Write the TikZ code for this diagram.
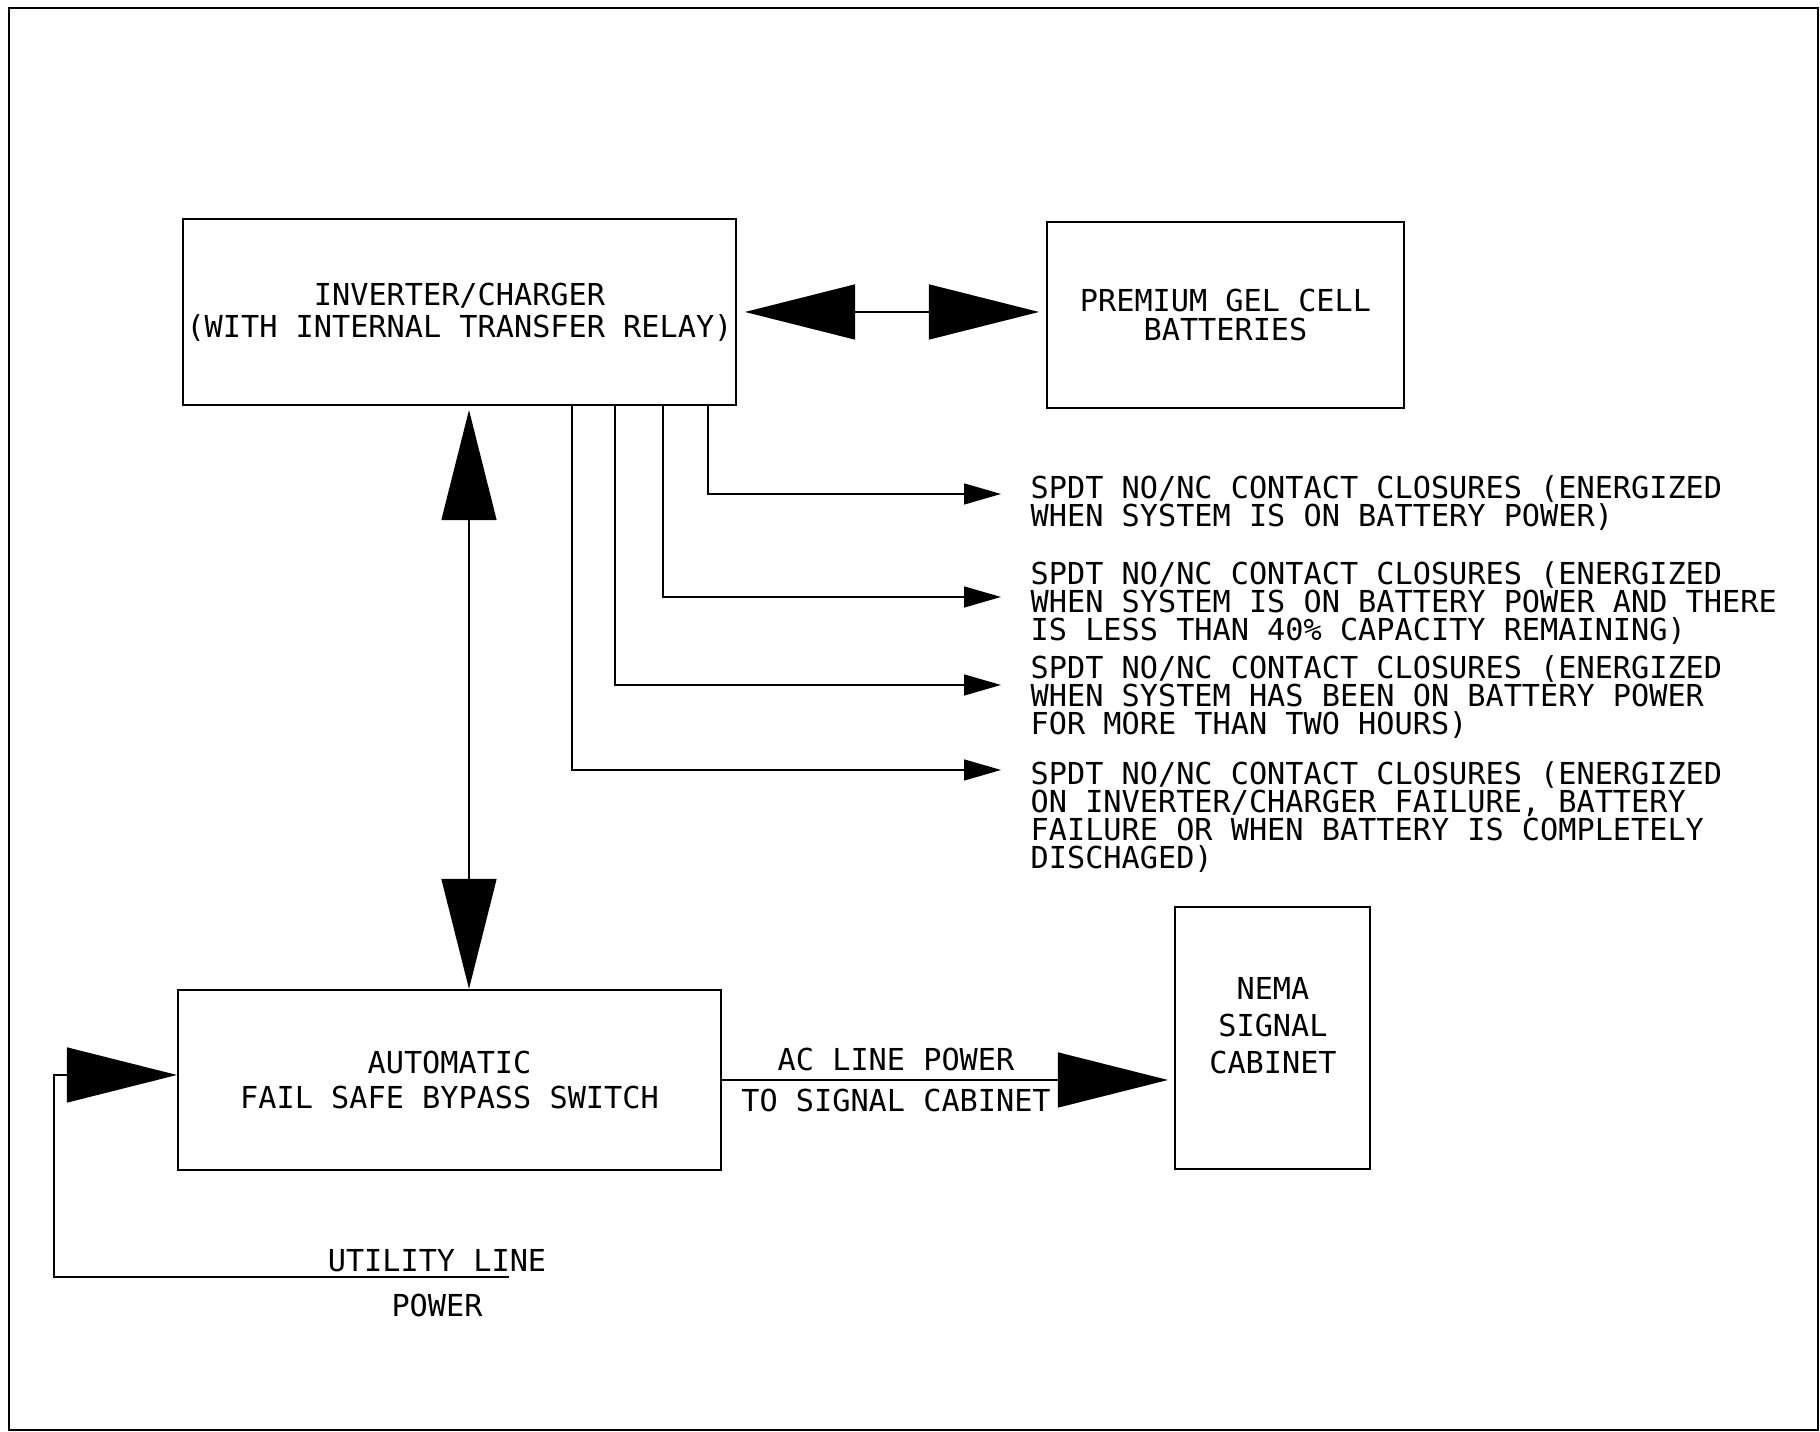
\documentclass[tikz,border=0pt]{standalone}
\usepackage{fontspec}
\usepackage{tikz}
\usetikzlibrary{arrows.meta,positioning,calc}
\newfontfamily\cadfont{DejaVu Sans Mono}
\newcommand{\cadsize}[1]{\cadfont\fontsize{8.6pt}{#1}\selectfont}
\tikzset{
  blk/.style={draw, line width=0.6pt, inner sep=0.02cm, align=center, font=\cadsize{9.1pt}},
  note/.style={inner sep=0pt, align=left, anchor=north west, font=\cadsize{7.95pt}},
  lbl/.style={font=\cadsize{9pt}, inner sep=0.08cm},
  bigarr/.style={-{Triangle[length=1.1cm, width=0.55cm]}, line width=0.4pt},
  bigdbl/.style={{Triangle[length=1.1cm, width=0.55cm]}-{Triangle[length=1.1cm, width=0.55cm]}, line width=0.4pt},
  smarr/.style={-{Triangle[length=0.37cm, width=0.21cm]}, line width=0.4pt},
  frm/.style={line width=0.8pt},
}

\begin{document}
\begin{tikzpicture}[x=1cm,y=1cm]
\useasboundingbox (0,0) rectangle (18.2,14.32);
\draw[frm] (0.09,0.02) rectangle (18.18,14.24);
\node[blk, minimum width=5.53cm, minimum height=1.86cm] (inv) at (4.595,11.20)
  {INVERTER/CHARGER\\(WITH INTERNAL TRANSFER RELAY)};
\node[blk, minimum width=3.57cm, minimum height=1.86cm, font=\cadsize{8.5pt}] (bat) at (12.255,11.17)
  {PREMIUM GEL CELL\\BATTERIES};
\node[blk, minimum width=5.43cm, minimum height=1.80cm, font=\cadsize{10.2pt}] (byp) at (4.495,3.52)
  {AUTOMATIC\\FAIL SAFE BYPASS SWITCH};
\node[blk, minimum width=1.95cm, minimum height=2.62cm] (nema) at (12.725,3.94) {};
\node[font=\cadsize{10.6pt}, align=center, inner sep=0pt] (nemat) at (12.73,4.065) {NEMA\\SIGNAL\\CABINET};
\draw[bigdbl, shorten <=0.08cm, shorten >=0.07cm] (inv.east) -- (inv.east -| bat.west);
\coordinate (vx) at (4.69,0);
\draw[bigdbl, shorten <=0.04cm] (inv.south -| vx) -- (byp.north -| vx);
\coordinate (o1) at (10.01,9.38);
\coordinate (o2) at (10.01,8.35);
\coordinate (o3) at (10.01,7.47);
\coordinate (o4) at (10.01,6.62);
\draw[smarr] (inv.south -| 7.08,0) |- (o1);
\draw[smarr] (inv.south -| 6.63,0) |- (o2);
\draw[smarr] (inv.south -| 6.15,0) |- (o3);
\draw[smarr] (inv.south -| 5.72,0) |- (o4);
\node[note] (c1) at (10.30,9.57) {SPDT NO/NC CONTACT CLOSURES (ENERGIZED\\WHEN SYSTEM IS ON BATTERY POWER)};
\node[note] (c2) at (10.30,8.71) {SPDT NO/NC CONTACT CLOSURES (ENERGIZED\\WHEN SYSTEM IS ON BATTERY POWER AND THERE\\IS LESS THAN 40\% CAPACITY REMAINING)};
\node[note] (c3) at (10.30,7.77) {SPDT NO/NC CONTACT CLOSURES (ENERGIZED\\WHEN SYSTEM HAS BEEN ON BATTERY POWER\\FOR MORE THAN TWO HOURS)};
\node[note] (c4) at (10.30,6.71) {SPDT NO/NC CONTACT CLOSURES (ENERGIZED\\ON INVERTER/CHARGER FAILURE, BATTERY\\FAILURE OR WHEN BATTERY IS COMPLETELY\\DISCHAGED)};
\draw[bigarr, shorten >=0.06cm] (byp.east) -- (byp.east -| nema.west)
  node[lbl, pos=0.385, above] (ac1) {AC LINE POWER}
  node[lbl, pos=0.385, below] (ac2) {TO SIGNAL CABINET};
\coordinate (utl) at (5.09,1.55);
\draw[bigarr] (utl) -| ([xshift=-1.23cm, yshift=0.05cm]byp.west) -- ([yshift=0.05cm]byp.west);
\node[lbl, above, inner sep=0.04cm] (ut1) at (4.37,1.55) {UTILITY LINE};
\node[lbl, below, inner sep=0.16cm] (ut2) at (4.37,1.55) {POWER};
\end{tikzpicture}
\end{document}
